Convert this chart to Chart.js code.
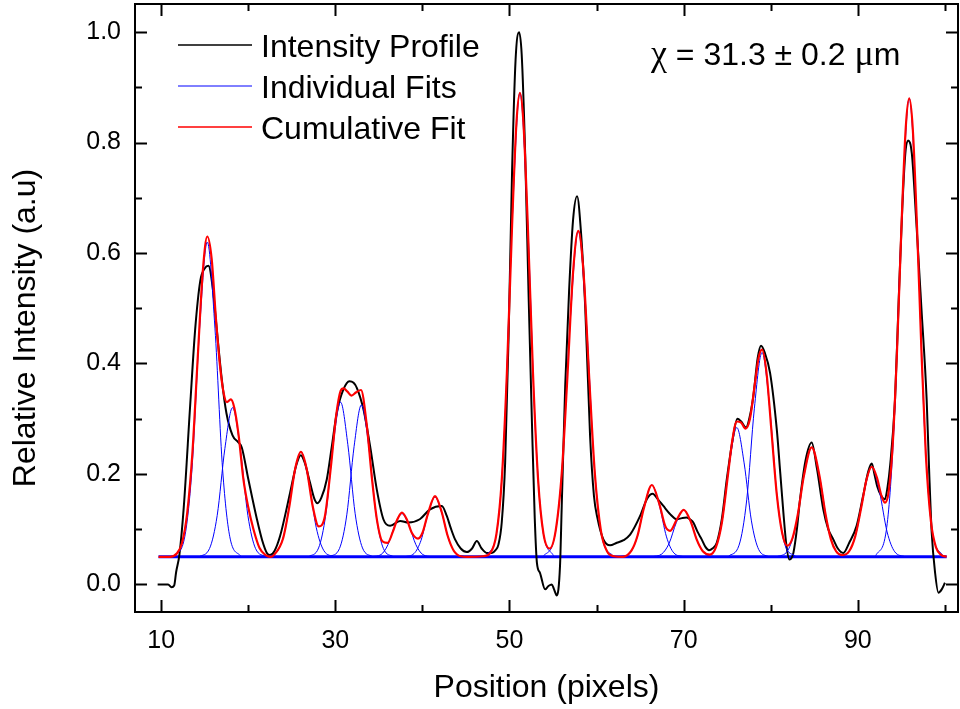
<!doctype html>
<html lang="en">
<head>
<meta charset="utf-8">
<title>Intensity Profile fit</title>
<style>
  * { margin: 0; padding: 0; }
  body { background: #fff; }
</style>
</head>
<body>
<canvas id="myChart" width="960" height="709"></canvas>
<script src="https://cdn.jsdelivr.net/npm/chart.js/dist/chart.umd.min.js"></script>
<script>
// ---- data ----
const xTickValues = [10, 20, 30, 40, 50, 60, 70, 80, 90, 100];
const xTickLabels = ['10', '', '30', '', '50', '', '70', '', '90', ''];
const yTickValues = [0, 0.1, 0.2, 0.3, 0.4, 0.5, 0.6, 0.7, 0.8, 0.9, 1.0];
const yTickLabels = ['0.0', '', '0.2', '', '0.4', '', '0.6', '', '0.8', '', '1.0'];

const seriesNames = ['Intensity Profile', 'Individual Fits', 'Cumulative Fit'];

// measured profile (position, relative intensity)
const intensityProfile = [
  [9.6,0.0],[10.8,0.0],[11.2,-0.005],[11.5,-0.002],[11.72,0.022],[12.1,0.054],[12.6,0.14],[13.33,0.323],
  [13.9,0.46],[14.5,0.55],[15.0,0.572],[15.43,0.577],[15.9,0.54],[16.4,0.46],[16.97,0.371],[17.5,0.31],
  [18.2,0.27],[18.87,0.257],[19.26,0.248],[20.02,0.19],[21.0,0.118],[21.6,0.08],[22.14,0.057],[22.5,0.053],
  [23.0,0.06],[23.66,0.0875],[24.81,0.166],[25.5,0.215],[26.04,0.234],[26.5,0.22],[27.1,0.184],[27.6,0.155],
  [27.94,0.147],[28.4,0.157],[29.02,0.19],[29.6,0.25],[30.17,0.311],[30.93,0.353],[31.62,0.368],[32.1,0.365],
  [32.47,0.356],[33.23,0.317],[34.0,0.25],[34.76,0.172],[35.52,0.118],[36.29,0.106],[37.44,0.115],[38.39,0.112],
  [39.7,0.118],[40.88,0.136],[42.23,0.142],[42.8,0.124],[43.3,0.1],[43.75,0.0815],[44.4,0.065],[45.1,0.0586],
  [45.7,0.065],[46.25,0.0785],[46.8,0.065],[47.39,0.057],[47.97,0.057],[48.4,0.062],[48.73,0.072],[49.11,0.112],
  [49.5,0.22],[49.9,0.45],[50.3,0.75],[50.7,0.95],[51.1,1.0],[51.4,0.96],[51.8,0.78],[52.2,0.52],
  [52.6,0.28],[52.9,0.12],[53.15,0.039],[53.5,0.021],[54.09,-0.009],[54.47,-0.003],[54.86,0.0],[55.12,-0.009],
  [55.43,-0.02],[55.8,0.033],[56.0,0.142],[56.4,0.36],[56.84,0.53],[57.3,0.66],[57.76,0.703],[58.2,0.64],
  [58.7,0.5],[59.25,0.27],[59.7,0.16],[60.1,0.12],[60.78,0.0815],[61.55,0.0707],[62.32,0.0755],[63.1,0.08],
  [63.85,0.09],[65.0,0.124],[65.8,0.155],[66.45,0.164],[67.0,0.155],[67.67,0.142],[68.4,0.128],[69.2,0.118],
  [69.8,0.12],[70.34,0.121],[70.8,0.117],[71.11,0.112],[71.6,0.095],[72.07,0.0815],[72.5,0.068],[72.91,0.062],
  [73.3,0.065],[73.8,0.0755],[74.4,0.12],[74.95,0.19],[75.6,0.26],[76.17,0.3],[76.6,0.295],[77.16,0.284],
  [77.6,0.305],[78.0,0.341],[78.5,0.41],[78.88,0.432],[79.3,0.42],[79.92,0.383],[80.69,0.281],[81.1,0.2],
  [81.45,0.13],[81.8,0.07],[82.14,0.045],[82.4,0.048],[82.6,0.057],[83.0,0.1],[83.36,0.154],[84.0,0.225],
  [84.7,0.257],[85.3,0.21],[86.03,0.136],[86.6,0.1],[87.18,0.0815],[87.7,0.065],[88.33,0.057],[89.0,0.075],
  [89.86,0.106],[90.6,0.16],[91.2,0.205],[91.6,0.219],[91.9,0.2],[92.22,0.178],[92.7,0.16],[93.1,0.154],
  [93.4,0.175],[93.7,0.214],[94.27,0.335],[94.7,0.52],[95.1,0.68],[95.45,0.78],[95.76,0.804],[96.2,0.78],
  [96.7,0.66],[97.3,0.5],[97.9,0.335],[98.2,0.2],[98.48,0.094],[98.87,0.021],[99.25,-0.015],[99.63,-0.009],
  [100.0,0.003]
];

// sum of all fitted peaks
const cumulativeFit = [
  [9.7,0.05],[11.0,0.05],[11.8,0.056],[12.4,0.075],[13.0,0.13],[13.6,0.24],[14.2,0.41],[14.8,0.57],
  [15.3,0.63],[15.8,0.59],[16.3,0.48],[16.8,0.39],[17.2,0.345],[17.55,0.33],[18.0,0.335],[18.4,0.32],
  [18.9,0.27],[19.45,0.19],[20.0,0.14],[20.6,0.1],[21.3,0.066],[22.0,0.053],[22.6,0.05],[23.0,0.054],
  [24.0,0.083],[24.7,0.139],[25.4,0.21],[26.05,0.24],[26.7,0.21],[27.4,0.142],[28.1,0.105],[28.8,0.123],
  [29.5,0.214],[30.1,0.306],[30.6,0.35],[30.95,0.355],[31.4,0.349],[31.85,0.342],[32.4,0.348],[32.95,0.352],
  [33.6,0.29],[34.2,0.193],[34.8,0.115],[35.4,0.078],[36.0,0.075],[36.6,0.095],[37.1,0.117],[37.65,0.13],
  [38.2,0.118],[38.8,0.093],[39.5,0.083],[40.0,0.093],[40.6,0.126],[41.45,0.16],[42.2,0.132],[42.9,0.088],
  [43.6,0.061],[44.4,0.051],[45.2,0.05],[47.0,0.051],[47.8,0.057],[48.5,0.091],[49.1,0.186],[49.7,0.382],
  [50.3,0.651],[50.8,0.836],[51.2,0.89],[51.6,0.836],[52.1,0.651],[52.7,0.382],[53.3,0.186],[53.9,0.092],
  [54.6,0.065],[55.3,0.097],[56.0,0.201],[56.6,0.361],[57.3,0.565],[57.9,0.64],[58.5,0.565],[59.2,0.361],
  [59.8,0.201],[60.5,0.097],[61.2,0.06],[62.0,0.051],[63.0,0.05],[64.0,0.061],[64.7,0.088],[65.4,0.136],
  [66.35,0.18],[67.2,0.146],[67.9,0.105],[68.45,0.097],[69.2,0.117],[70.0,0.135],[70.8,0.114],[71.5,0.081],
  [72.2,0.06],[73.0,0.054],[73.7,0.067],[74.4,0.113],[75.1,0.2],[75.6,0.262],[76.1,0.295],[76.6,0.293],
  [77.1,0.282],[77.6,0.299],[78.2,0.366],[78.6,0.41],[79.0,0.425],[79.5,0.385],[80.1,0.274],[80.7,0.162],
  [81.3,0.094],[81.9,0.07],[82.5,0.084],[83.1,0.126],[83.8,0.196],[84.7,0.248],[85.6,0.196],[86.3,0.126],
  [86.9,0.082],[87.5,0.06],[88.2,0.053],[89.0,0.06],[89.7,0.087],[90.4,0.14],[91.0,0.19],[91.6,0.213],
  [92.2,0.193],[92.7,0.161],[93.1,0.148],[93.5,0.164],[94.0,0.252],[94.5,0.424],[95.0,0.645],[95.5,0.827],
  [95.9,0.88],[96.3,0.827],[96.8,0.645],[97.3,0.424],[97.8,0.237],[98.4,0.113],[99.0,0.066],[99.6,0.053],
  [100.2,0.05]
];

// single fitted peaks, each sampled across its width
const individualFits = [
  [[11.45,0.051],[12.66,0.082],[13.54,0.208],[14.42,0.464],[15.3,0.62],[16.18,0.464],[17.06,0.208],[17.94,0.082],[19.15,0.051]],
  [[14.35,0.05],[15.56,0.065],[16.44,0.125],[17.32,0.246],[18.2,0.32],[19.08,0.246],[19.96,0.125],[20.84,0.065],[22.05,0.05]],
  [[22.2,0.05],[23.41,0.061],[24.29,0.103],[25.17,0.188],[26.05,0.24],[26.93,0.188],[27.81,0.103],[28.69,0.061],[29.9,0.05]],
  [[26.93,0.05],[28.08,0.066],[28.92,0.128],[29.76,0.253],[30.6,0.33],[31.44,0.253],[32.28,0.128],[33.12,0.066],[34.28,0.05]],
  [[29.33,0.05],[30.48,0.065],[31.32,0.126],[32.16,0.25],[33.0,0.325],[33.84,0.25],[34.68,0.126],[35.52,0.065],[36.68,0.05]],
  [[34.15,0.05],[35.25,0.054],[36.05,0.072],[36.85,0.107],[37.65,0.128],[38.45,0.107],[39.25,0.072],[40.05,0.054],[41.15,0.05]],
  [[37.95,0.05],[39.05,0.056],[39.85,0.08],[40.65,0.128],[41.45,0.158],[42.25,0.128],[43.05,0.08],[43.85,0.056],[44.95,0.05]],
  [[47.35,0.052],[48.56,0.097],[49.44,0.284],[50.32,0.66],[51.2,0.89],[52.08,0.66],[52.96,0.284],[53.84,0.097],[55.05,0.052]],
  [[53.88,0.051],[55.14,0.083],[56.06,0.214],[56.98,0.478],[57.9,0.64],[58.82,0.478],[59.74,0.214],[60.66,0.083],[61.93,0.051]],
  [[62.68,0.05],[63.83,0.057],[64.67,0.086],[65.51,0.144],[66.35,0.18],[67.19,0.144],[68.03,0.086],[68.87,0.057],[70.03,0.05]],
  [[66.33,0.05],[67.48,0.055],[68.32,0.074],[69.16,0.112],[70.0,0.135],[70.84,0.112],[71.68,0.074],[72.52,0.055],[73.68,0.05]],
  [[72.43,0.05],[73.58,0.063],[74.42,0.115],[75.26,0.22],[76.1,0.284],[76.94,0.22],[77.78,0.115],[78.62,0.063],[79.78,0.05]],
  [[75.15,0.051],[76.36,0.071],[77.24,0.153],[78.12,0.319],[79.0,0.42],[79.88,0.319],[80.76,0.153],[81.64,0.071],[82.85,0.051]],
  [[80.68,0.05],[81.94,0.061],[82.86,0.105],[83.78,0.194],[84.7,0.248],[85.62,0.194],[86.54,0.105],[87.46,0.061],[88.73,0.05]],
  [[87.75,0.05],[88.96,0.059],[89.84,0.095],[90.72,0.168],[91.6,0.213],[92.48,0.168],[93.36,0.095],[94.24,0.059],[95.45,0.05]],
  [[92.05,0.052],[93.26,0.097],[94.14,0.281],[95.02,0.653],[95.9,0.88],[96.78,0.653],[97.66,0.281],[98.54,0.097],[99.75,0.052]]
];
const fitBaseline = [[9.7, 0.05], [100.2, 0.05]];

// annotation split so the Greek letters can use a serif face
const annotationParts = [['χ', 'serif'], [' = 31.3 ± 0.2 ', 'sans'], ['μ', 'serif'], ['m', 'sans']];
const xTitle = 'Position (pixels)';
const yTitle = 'Relative Intensity (a.u)';

const FONT = "'Liberation Sans', Arial, sans-serif";
const SERIF = "'Liberation Serif', 'Times New Roman', serif";
const toPts = arr => arr.map(p => ({ x: p[0], y: p[1] }));

const lineDefaults = {
  pointRadius: 0,
  fill: false,
  cubicInterpolationMode: 'monotone'
};

const datasets = [];
datasets.push(Object.assign({
  label: seriesNames[0], data: toPts(intensityProfile),
  borderColor: '#000000', borderWidth: 2, order: 3
}, lineDefaults));
datasets.push(Object.assign({
  label: 'baseline', data: toPts(fitBaseline),
  borderColor: '#0000ff', borderWidth: 3, order: 4
}, lineDefaults));
individualFits.forEach((pk, i) => {
  datasets.push(Object.assign({
    label: seriesNames[1] + ' ' + (i + 1), data: toPts(pk),
    borderColor: '#0000ff', borderWidth: 1, order: 1
  }, lineDefaults));
});
datasets.push(Object.assign({
  label: seriesNames[2], data: toPts(cumulativeFit),
  borderColor: '#ff0000', borderWidth: 2.2, order: 0
}, lineDefaults));

// frame, inward ticks, legend, note and axis titles
const frameAndText = {
  id: 'frameAndText',
  afterDatasetsDraw(chart) {
    const { ctx, chartArea: { left, right, top, bottom }, scales: { x, y } } = chart;
    ctx.save();
    ctx.strokeStyle = '#000';
    ctx.lineWidth = 2;
    ctx.strokeRect(left, top, right - left, bottom - top);

    ctx.beginPath();
    xTickValues.forEach((v, i) => {
      const px = Math.round(x.getPixelForValue(v)) + 0.5;
      const len = xTickLabels[i] ? 12 : 7;
      ctx.moveTo(px, bottom); ctx.lineTo(px, bottom - len);
      ctx.moveTo(px, top); ctx.lineTo(px, top + len);
    });
    yTickValues.forEach((v, i) => {
      const py = Math.round(y.getPixelForValue(v)) + 0.5;
      const len = yTickLabels[i] ? 12 : 7;
      ctx.moveTo(left, py); ctx.lineTo(left + len, py);
      ctx.moveTo(right, py); ctx.lineTo(right - len, py);
    });
    ctx.stroke();

    // legend
    const legendColors = ['#000000', '#0000ff', '#ff0000'];
    const legendWidths = [1.5, 1, 1.5];
    ctx.font = '32px ' + FONT;
    ctx.textAlign = 'left';
    ctx.textBaseline = 'alphabetic';
    seriesNames.forEach((name, i) => {
      const ly = 45 + i * 41;
      ctx.beginPath();
      ctx.strokeStyle = legendColors[i];
      ctx.lineWidth = legendWidths[i];
      ctx.moveTo(178, ly); ctx.lineTo(252, ly);
      ctx.stroke();
      ctx.fillStyle = '#000';
      ctx.fillText(name, 261, ly + 11.5);
    });

    // chi annotation
    let ax = 651;
    annotationParts.forEach(([txt, face]) => {
      ctx.font = (face === 'serif' ? '36px ' + SERIF : '32px ' + FONT);
      ctx.fillText(txt, ax, 65);
      ax += ctx.measureText(txt).width;
    });

    // axis titles
    ctx.font = '32px ' + FONT;
    ctx.textAlign = 'center';
    ctx.fillText(xTitle, (left + right) / 2, 697);
    ctx.translate(35, 328);
    ctx.rotate(-Math.PI / 2);
    ctx.fillText(yTitle, 0, 0);
    ctx.restore();
  }
};

const config = {
  type: 'line',
  data: { datasets },
  options: {
    responsive: false,
    animation: false,
    layout: { padding: { top: 4, right: 2, left: 0, bottom: 0 } },
    plugins: { legend: { display: false }, tooltip: { enabled: false } },
    scales: {
      x: {
        type: 'linear', min: 7.0, max: 101.5,
        grid: { display: false, drawTicks: false },
        border: { display: false },
        afterBuildTicks: s => { s.ticks = xTickValues.map(v => ({ value: v })); },
        afterFit: s => { s.height = 97; s.paddingLeft = 0; s.paddingRight = 0; },
        ticks: {
          autoSkip: false, maxRotation: 0, padding: 14, color: '#000',
          font: { family: FONT, size: 25 },
          callback: (v, i) => xTickLabels[i]
        }
      },
      y: {
        type: 'linear', min: -0.05, max: 1.051,
        grid: { display: false, drawTicks: false },
        border: { display: false },
        afterBuildTicks: s => { s.ticks = yTickValues.map(v => ({ value: v })); },
        afterFit: s => { s.width = 135; s.paddingTop = 0; s.paddingBottom = 0; },
        ticks: {
          autoSkip: false, padding: 14, color: '#000',
          font: { family: FONT, size: 25 },
          callback: (v, i) => yTickLabels[i]
        }
      }
    }
  },
  plugins: [frameAndText]
};

const myChart = new Chart(document.getElementById('myChart'), config);
</script>
</body>
</html>
